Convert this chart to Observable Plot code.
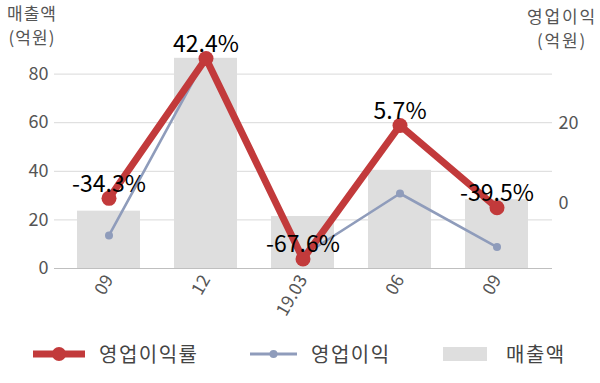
<!DOCTYPE html>
<html>
<head>
<meta charset="utf-8">
<script src="https://cdn.jsdelivr.net/npm/d3@7"></script>
<script src="https://cdn.jsdelivr.net/npm/@observablehq/plot@0.6"></script>
<style>
  html, body { margin: 0; padding: 0; background: #fff; }
  body { width: 600px; height: 383px; overflow: hidden; font-family: "Noto Sans CJK KR", "Noto Sans", sans-serif; }
  #wrap { position: relative; width: 600px; height: 330px; }
  .ttl { position: absolute; color: #555; font-size: 17px; line-height: 24px; text-align: center; letter-spacing: 1px; }
  #legend { display: flex; align-items: center; height: 53px; color: #444; font-size: 20px; letter-spacing: 1.5px; }
  #legend .item { display: flex; align-items: center; }
</style>
</head>
<body>
<div id="wrap">
  <div class="ttl" style="left:1px; top:1px; width:62px;">매출액<br>(억원)</div>
  <div class="ttl" style="left:522px; top:4px; width:80px; letter-spacing:1.8px;">영업이익<br>(억원)</div>
</div>
<div id="legend"></div>
<script>
// ---- data ----
const labels = ["09", "12", "19.03", "06", "09"];
const sales = [23.6, 86.5, 21.4, 40.4, 28.3];          // 매출액 (억원), left axis
const opProfit = [-8.0, 36.5, -13.0, 2.5, -10.9];      // 영업이익 (억원), right axis
const opMargin = [-34.3, 42.4, -67.6, 5.7, -39.5];      // 영업이익률 (%)
const leftTicks = [0, 20, 40, 60, 80];
const rightTicks = [0, 20];

const RED = "#c23a3b", BLUE = "#8f9cbb", GREY = "#dedede";

// secondary scales mapped into left-axis units
const rightToLeft = d3.scaleLinear().domain([0, 20]).range([26.75, 59.67]);
const pctToLeft = d3.scaleLinear().domain([0, 40]).range([54.6, 84.6]);

const rows = labels.map((l, i) => ({
  i, label: l, sales: sales[i], op: opProfit[i], margin: opMargin[i],
  opL: rightToLeft(opProfit[i]), marginL: pctToLeft(opMargin[i])
}));

const font = "Noto Sans CJK KR, Noto Sans, sans-serif";

const chart = Plot.plot({
  width: 600,
  height: 330,
  marginLeft: 54,
  marginRight: 48,
  marginTop: 25,
  marginBottom: 62,
  style: { fontFamily: font, background: "transparent", overflow: "visible" },
  x: { type: "band", domain: rows.map(d => d.i), paddingInner: 0.35, paddingOuter: 0.175, insetLeft: 5.25, insetRight: 5.25 },
  y: { domain: [0, 100] },
  marks: [
    Plot.gridY([20, 40, 60, 80], { stroke: "#d9d9d9", strokeOpacity: 1 }),
    Plot.barY(rows, { x: "i", y: "sales", fill: GREY }),
    Plot.ruleY([0], { stroke: "#bfbfbf", strokeWidth: 1.2 }),
    Plot.line(rows, { x: "i", y: "opL", stroke: BLUE, strokeWidth: 2.6 }),
    Plot.dot(rows, { x: "i", y: "opL", r: 4, fill: BLUE }),
    Plot.line(rows, { x: "i", y: "marginL", stroke: RED, strokeWidth: 7 }),
    Plot.dot(rows, { x: "i", y: "marginL", r: 7.5, fill: RED }),
    Plot.text(rows, { x: "i", y: "marginL", text: d => d.margin.toFixed(1) + "%", dy: -14, fontSize: 23, fill: "#000" }),
    Plot.axisY(leftTicks, { anchor: "left", tickSize: 0, tickPadding: 6, fontSize: 18, fill: "#555", label: null }),
    Plot.axisY(rightTicks.map(v => rightToLeft(v)), { anchor: "right", tickSize: 0, tickPadding: 6, fontSize: 18, fill: "#555", label: null,
      tickFormat: v => String(Math.round(rightToLeft.invert(v))) }),
    Plot.axisX({ tickSize: 0, tickPadding: 8, tickRotate: -60, fontSize: 17.5, fill: "#555", label: null,
      tickFormat: i => labels[i] })
  ]
});
document.getElementById("wrap").prepend(chart);
chart.style.position = "absolute";
chart.style.left = "0";
chart.style.top = "0";

// ---- legend ----
const legendItems = [
  { name: "영업이익률", kind: "line", color: RED, sw: 7, r: 7, w: 52, left: 33 },
  { name: "영업이익", kind: "line", color: BLUE, sw: 3, r: 4, w: 47, left: 250 },
  { name: "매출액", kind: "rect", color: GREY, w: 44, left: 443 }
];
const legend = document.getElementById("legend");
legend.style.position = "relative";
legendItems.forEach(it => {
  const item = document.createElement("div");
  item.className = "item";
  item.style.position = "absolute";
  item.style.left = it.left + "px";
  item.style.top = "9px";
  let sw;
  if (it.kind === "line") {
    sw = `<svg width="${it.w}" height="20"><line x1="0" x2="${it.w}" y1="10" y2="10" stroke="${it.color}" stroke-width="${it.sw}"/><circle cx="${it.w/2}" cy="10" r="${it.r}" fill="${it.color}"/></svg>`;
  } else {
    sw = `<svg width="${it.w}" height="20"><rect x="0" y="3" width="${it.w}" height="14" fill="${it.color}"/></svg>`;
  }
  item.innerHTML = sw + `<span style="margin-left:${it.kind === 'rect' ? 19 : 14}px">${it.name}</span>`;
  legend.appendChild(item);
});
</script>
</body>
</html>
